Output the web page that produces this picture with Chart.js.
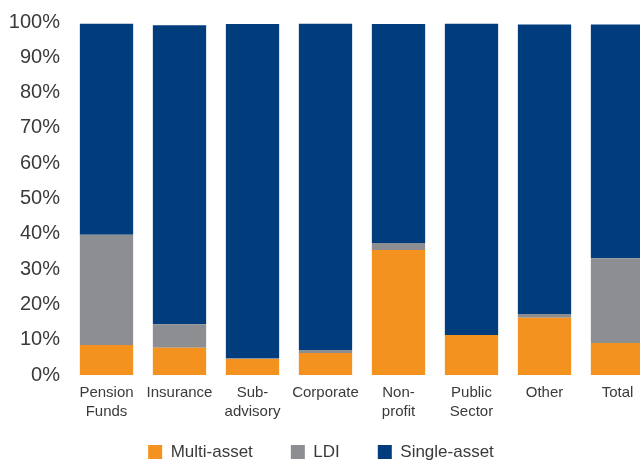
<!DOCTYPE html>
<html>
<head>
<meta charset="utf-8">
<script src="https://cdn.jsdelivr.net/npm/chart.js@4"></script>
<style>
  html, body { margin: 0; padding: 0; background: #fff; }
  #wrap { width: 640px; height: 464px; overflow: hidden; }
  canvas { display: block; }
</style>
</head>
<body>
<div id="wrap"><canvas id="chart" width="660" height="464"></canvas></div>
<script>
const categories = [["Pension", "Funds"], "Insurance", ["Sub-", "advisory"], "Corporate", ["Non-", "profit"], ["Public", "Sector"], "Other", "Total"];
const multiAsset = [8.5, 7.7, 4.5, 6.2, 35.4, 11.3, 16.2, 9.1];
const ldi = [31.2, 6.7, 0.2, 0.9, 2.0, 0, 1.1, 24.0];
const singleAsset = [59.8, 84.7, 94.7, 92.4, 62.0, 88.2, 82.0, 66.2];

const textColor = "#3a3a3a";
const fontFamily = "'Liberation Sans', Arial, sans-serif";

// legend sits closer to the axis labels than chart.js would put it
const legendNudge = {
  id: "legendNudge",
  afterLayout(chart) {
    chart.legend.top -= 17.5;
    chart.legend.bottom -= 17.5;
  }
};

// the original is cropped at the right edge, so the canvas is a bit wider than the page
new Chart(document.getElementById("chart").getContext("2d"), {
  type: "bar",
  data: {
    labels: categories,
    datasets: [
      { label: "Multi-asset", data: multiAsset, backgroundColor: "#F4921F" },
      { label: "LDI", data: ldi, backgroundColor: "#8D8E91" },
      { label: "Single-asset", data: singleAsset, backgroundColor: "#013D7D" }
    ]
  },
  plugins: [legendNudge],
  options: {
    responsive: false,
    animation: false,
    layout: { padding: { top: 22, left: -12, right: 6, bottom: -24 } },
    datasets: { bar: { barPercentage: 0.73, categoryPercentage: 1, borderWidth: 0 } },
    plugins: {
      tooltip: { enabled: false },
      legend: {
        position: "bottom",
        labels: {
          boxWidth: 14, boxHeight: 14, padding: 38,
          color: textColor,
          font: { family: fontFamily, size: 17 }
        }
      }
    },
    scales: {
      x: {
        stacked: true,
        grid: { display: false, drawTicks: false },
        border: { display: false },
        ticks: { color: textColor, padding: 8, font: { family: fontFamily, size: 15, lineHeight: 1.27 }, maxRotation: 0, autoSkip: false },
        afterFit: (axis) => { axis.height = 48; }
      },
      y: {
        stacked: true,
        min: 0, max: 100,
        grid: { display: false, drawTicks: false },
        border: { display: false },
        ticks: {
          stepSize: 10, padding: 10, color: textColor,
          font: { family: fontFamily, size: 20 },
          callback: (v) => v + "%"
        },
        afterFit: (axis) => { axis.width = 82; }
      }
    }
  }
});
</script>
</body>
</html>
